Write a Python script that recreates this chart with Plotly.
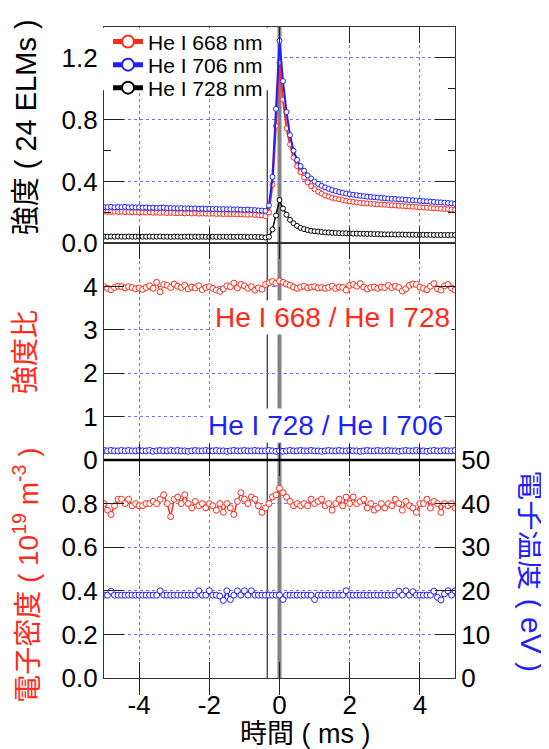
import numpy as np
import plotly.graph_objs as go

# time axis (ms), 0.1 ms sampling
time_ms = np.round(np.arange(-50, 51) / 10, 1)

# --- top panel: line intensities (24 ELMs) ---
he668 = [0.205, 0.204, 0.203, 0.205, 0.203, 0.204, 0.202, 0.203, 0.201, 0.202,
         0.200, 0.201, 0.199, 0.200, 0.198, 0.199, 0.197, 0.198, 0.196, 0.197,
         0.196, 0.195, 0.196, 0.194, 0.195, 0.193, 0.194, 0.192, 0.193, 0.192,
         0.191, 0.192, 0.190, 0.191, 0.189, 0.190, 0.188, 0.189, 0.187, 0.188,
         0.186, 0.185, 0.186, 0.184, 0.182, 0.180, 0.176, 0.200, 0.380, 0.760,
         1.170,
         0.930, 0.745, 0.640, 0.555, 0.500, 0.460, 0.425, 0.395, 0.370, 0.350,
         0.335, 0.322, 0.310, 0.302, 0.295, 0.290, 0.285, 0.280, 0.275, 0.271,
         0.268, 0.265, 0.262, 0.260, 0.258, 0.256, 0.254, 0.252, 0.251, 0.250,
         0.248, 0.246, 0.245, 0.243, 0.242, 0.240, 0.238, 0.237, 0.235, 0.233,
         0.232, 0.230, 0.229, 0.227, 0.226, 0.224, 0.222, 0.221, 0.219, 0.216]
he706 = [0.235, 0.234, 0.236, 0.233, 0.235, 0.234, 0.236, 0.233, 0.234, 0.232,
         0.233, 0.231, 0.232, 0.230, 0.231, 0.229, 0.230, 0.231, 0.228, 0.229,
         0.228, 0.227, 0.228, 0.226, 0.227, 0.225, 0.226, 0.224, 0.225, 0.223,
         0.224, 0.222, 0.223, 0.221, 0.222, 0.220, 0.221, 0.219, 0.220, 0.218,
         0.217, 0.218, 0.216, 0.215, 0.213, 0.212, 0.210, 0.245, 0.430, 0.870,
         1.310,
         1.050, 0.850, 0.700, 0.600, 0.540, 0.500, 0.470, 0.440, 0.420, 0.400,
         0.385, 0.372, 0.362, 0.353, 0.345, 0.338, 0.332, 0.327, 0.322, 0.318,
         0.314, 0.311, 0.308, 0.305, 0.302, 0.300, 0.298, 0.296, 0.294, 0.292,
         0.290, 0.288, 0.287, 0.285, 0.284, 0.282, 0.280, 0.279, 0.277, 0.275,
         0.273, 0.272, 0.270, 0.268, 0.266, 0.265, 0.263, 0.261, 0.259, 0.256]
he728 = [0.044, 0.043, 0.044, 0.043, 0.044, 0.043, 0.043, 0.044, 0.043, 0.043,
         0.044, 0.043, 0.043, 0.044, 0.043, 0.043, 0.044, 0.043, 0.043, 0.042,
         0.043, 0.043, 0.042, 0.043, 0.043, 0.042, 0.043, 0.042, 0.043, 0.042,
         0.042, 0.043, 0.042, 0.042, 0.043, 0.042, 0.042, 0.042, 0.043, 0.042,
         0.042, 0.041, 0.042, 0.042, 0.041, 0.040, 0.038, 0.042, 0.090, 0.180,
         0.280,
         0.225, 0.185, 0.152, 0.130, 0.113, 0.100, 0.092, 0.086, 0.081, 0.078,
         0.076, 0.073, 0.071, 0.070, 0.068, 0.067, 0.066, 0.065, 0.065, 0.064,
         0.063, 0.063, 0.062, 0.062, 0.061, 0.061, 0.060, 0.060, 0.059, 0.058,
         0.058, 0.058, 0.057, 0.057, 0.057, 0.056, 0.056, 0.056, 0.055, 0.055,
         0.055, 0.055, 0.055, 0.054, 0.054, 0.054, 0.054, 0.054, 0.054, 0.054]

# --- middle panel: line ratios ---
ratio_668_728 = [4.00, 3.96, 3.93, 3.98, 4.01, 4.00, 3.97, 4.00, 3.98, 3.95,
                 3.97, 3.94, 3.98, 4.02, 3.96, 4.10, 3.88, 4.05, 4.03, 3.98,
                 4.06, 4.01, 3.98, 4.03, 3.95, 3.99, 3.97, 4.02, 3.93, 3.98,
                 4.00, 3.96, 3.92, 3.89, 3.95, 4.02, 4.00, 4.08, 3.97, 4.05,
                 4.02, 3.96, 4.00, 3.92, 3.97, 3.94, 4.05, 4.09, 4.12, 4.08,
                 4.13,
                 4.10, 4.06, 4.03, 3.99, 3.96, 3.99, 4.01, 3.97, 3.99, 4.00,
                 3.97, 3.98, 3.96, 3.98, 4.01, 3.96, 3.99, 3.98, 3.92, 4.03,
                 4.05, 4.01, 4.07, 3.99, 3.95, 3.98, 3.99, 3.96, 3.99, 3.98,
                 4.03, 3.98, 4.01, 3.98, 3.90, 3.95, 4.03, 4.06, 4.05, 3.99,
                 3.96, 3.93, 4.01, 4.07, 3.95, 3.92, 4.02, 4.05, 3.97, 3.92]
ratio_728_706 = [0.22, 0.21, 0.22, 0.21, 0.21, 0.22, 0.21, 0.22, 0.21, 0.21,
                 0.22, 0.21, 0.21, 0.22, 0.20, 0.21, 0.22, 0.21, 0.21, 0.22,
                 0.21, 0.22, 0.21, 0.21, 0.20, 0.21, 0.22, 0.21, 0.21, 0.22,
                 0.21, 0.21, 0.22, 0.21, 0.21, 0.20, 0.21, 0.22, 0.21, 0.21,
                 0.22, 0.21, 0.21, 0.22, 0.21, 0.21, 0.21, 0.22, 0.21, 0.20,
                 0.21,
                 0.20, 0.21, 0.22, 0.21, 0.21, 0.22, 0.21, 0.21, 0.22, 0.21,
                 0.21, 0.20, 0.21, 0.22, 0.21, 0.21, 0.22, 0.21, 0.21, 0.22,
                 0.21, 0.21, 0.20, 0.21, 0.22, 0.21, 0.21, 0.22, 0.21, 0.21,
                 0.22, 0.21, 0.21, 0.20, 0.21, 0.22, 0.21, 0.21, 0.22, 0.21,
                 0.21, 0.20, 0.21, 0.22, 0.21, 0.21, 0.22, 0.21, 0.21, 0.22]

# --- bottom panel: electron density (1e19 m^-3) and temperature (eV) ---
n_e = [0.80, 0.77, 0.75, 0.79, 0.82, 0.82, 0.80, 0.82, 0.79, 0.80,
       0.79, 0.79, 0.80, 0.80, 0.81, 0.80, 0.82, 0.84, 0.80, 0.74,
       0.82, 0.83, 0.80, 0.84, 0.80, 0.78, 0.81, 0.79, 0.80, 0.78,
       0.80, 0.79, 0.77, 0.80, 0.76, 0.80, 0.78, 0.75, 0.81, 0.85,
       0.82, 0.80, 0.83, 0.82, 0.79, 0.76, 0.78, 0.80, 0.83, 0.84,
       0.87,
       0.85, 0.83, 0.81, 0.79, 0.80, 0.79, 0.80, 0.79, 0.82, 0.80,
       0.81, 0.82, 0.79, 0.80, 0.77, 0.80, 0.82, 0.79, 0.83, 0.80,
       0.83, 0.80, 0.81, 0.82, 0.78, 0.80, 0.77, 0.78, 0.80, 0.78,
       0.80, 0.79, 0.82, 0.80, 0.77, 0.81, 0.79, 0.78, 0.76, 0.80,
       0.80, 0.82, 0.78, 0.81, 0.80, 0.76, 0.80, 0.79, 0.80, 0.78]
T_e = [19.0, 19.0, 19.9, 19.0, 19.0, 19.0, 19.0, 19.0, 19.0, 19.0,
       19.0, 19.0, 19.0, 19.0, 19.0, 19.0, 20.0, 19.0, 19.0, 19.0,
       19.0, 19.0, 19.0, 19.0, 19.0, 19.0, 19.0, 20.0, 19.0, 19.0,
       20.0, 19.0, 19.0, 18.8, 17.8, 20.0, 18.0, 19.0, 20.0, 19.0,
       20.0, 19.0, 20.0, 19.0, 19.0, 19.0, 19.0, 19.0, 19.0, 19.0,
       19.0,
       18.0, 19.0, 19.0, 19.0, 19.0, 19.0, 19.0, 19.0, 19.0, 18.0,
       19.0, 19.0, 19.0, 19.0, 19.0, 19.0, 19.0, 19.0, 20.0, 19.0,
       19.0, 19.0, 19.0, 19.0, 19.0, 19.0, 19.0, 19.0, 19.0, 19.0,
       19.0, 19.0, 19.0, 19.9, 19.0, 20.0, 19.0, 19.8, 19.0, 19.0,
       19.0, 19.0, 19.0, 19.9, 18.5, 17.9, 19.3, 20.0, 19.0, 20.0]

RED = '#ff2a1a'
BLUE = '#1f1fff'
GRID = '#6f6fff'
TXT = 'Liberation Sans, Arial, sans-serif'
JP = 'Liberation Sans, Noto Sans CJK JP, sans-serif'


def mk(color, size):
    return dict(symbol='circle', size=size, color='white',
                line=dict(color=color, width=1))


data = [
    go.Scatter(x=time_ms, y=he668, xaxis='x3', yaxis='y3', mode='lines+markers',
               name='He I 668 nm', legend='legend', line=dict(color=RED, width=2),
               marker=mk(RED, 5)),
    go.Scatter(x=time_ms, y=he706, xaxis='x3', yaxis='y3', mode='lines+markers',
               name='He I 706 nm', legend='legend2', line=dict(color=BLUE, width=2),
               marker=mk(BLUE, 5)),
    go.Scatter(x=time_ms, y=he728, xaxis='x3', yaxis='y3', mode='lines+markers',
               name='He I 728 nm', legend='legend3', line=dict(color='black', width=1.5),
               marker=mk('black', 5)),
    go.Scatter(x=time_ms, y=ratio_668_728, xaxis='x2', yaxis='y2', mode='lines+markers',
               showlegend=False, line=dict(color=RED, width=1), marker=mk(RED, 6)),
    go.Scatter(x=time_ms, y=ratio_728_706, xaxis='x2', yaxis='y2', mode='lines+markers',
               showlegend=False, line=dict(color=BLUE, width=1), marker=mk(BLUE, 6)),
    go.Scatter(x=time_ms, y=n_e, xaxis='x', yaxis='y', mode='lines+markers',
               showlegend=False, line=dict(color=RED, width=1.5), marker=mk(RED, 6)),
    go.Scatter(x=time_ms, y=T_e, xaxis='x', yaxis='y4', mode='lines+markers',
               showlegend=False, line=dict(color=BLUE, width=1.5), marker=mk(BLUE, 6)),
]

d_bot = [0, 0.3349]
d_mid = [0.3349, 0.6677]
d_top = [0.6677, 1.0]

xcommon = dict(range=[-5, 5], tickvals=[-4, -2, 0, 2, 4],
               ticktext=['-4', '-2', '0', '2', '4'], ticks='inside', ticklen=16,
               tickcolor='#222', showline=True, linecolor='#333', linewidth=1.2,
               mirror='allticks', showgrid=True, gridcolor=GRID, griddash='dot',
               gridwidth=1, zeroline=False, automargin=False,
               tickfont=dict(family=TXT, size=26, color='black'))
ycommon = dict(ticks='inside', ticklen=20, tickcolor='#222', showline=True,
               linecolor='#333', linewidth=1.2, showgrid=True, gridcolor=GRID,
               griddash='dot', gridwidth=1, zeroline=False, automargin=False,
               tickfont=dict(family=TXT, size=26, color='black'))

leg = dict(xanchor='left', yanchor='middle', x=0.0114, bgcolor='rgba(255,255,255,0)',
           font=dict(family=TXT, size=21, color='black'), itemsizing='constant')

layout = go.Layout(
    width=541, height=741,
    margin=dict(l=96, r=94, t=19, b=71, autoexpand=False),
    paper_bgcolor='white', plot_bgcolor='white',
    xaxis=dict(domain=[0, 1], anchor='y', ticklabelstandoff=4, **xcommon),
    xaxis2=dict(domain=[0, 1], anchor='y2', showticklabels=False, **xcommon),
    xaxis3=dict(domain=[0, 1], anchor='y3', showticklabels=False, **xcommon),
    yaxis=dict(domain=d_bot, anchor='x', range=[0, 1.0], tickvals=[0, 0.2, 0.4, 0.6, 0.8],
               ticktext=['0.0', '0.2', '0.4', '0.6', '0.8'], mirror=False, **ycommon),
    yaxis4=dict(overlaying='y', side='right', anchor='x', range=[0, 50],
                tickvals=[0, 10, 20, 30, 40, 50], ticks='inside', ticklen=20,
                tickcolor='#222', showline=True, linecolor='#333', linewidth=1.2,
                showgrid=False, zeroline=False, automargin=False,
                tickfont=dict(family=TXT, size=26, color='black')),
    yaxis2=dict(domain=d_mid, anchor='x2', range=[0, 5], tickvals=[0, 1, 2, 3, 4],
                mirror='allticks', **ycommon),
    yaxis3=dict(domain=d_top, anchor='x3', range=[0, 1.4], tickvals=[0, 0.4, 0.8, 1.2],
                ticktext=['0.0', '0.4', '0.8', '1.2'], mirror='allticks',
                minor=dict(tickvals=[0.2, 0.6, 1.0], ticks='inside', ticklen=7,
                           tickcolor='#222', showgrid=False), **ycommon),
    legend=dict(y=0.977, **leg),
    legend2=dict(y=0.9416, **leg),
    legend3=dict(y=0.9063, **leg),
    shapes=[
        dict(type='line', xref='x', yref='paper', x0=0, x1=0, y0=0, y1=1,
             line=dict(color='rgba(110,110,110,0.85)', width=4), layer='between'),
        dict(type='line', xref='x', yref='paper', x0=-0.35, x1=-0.35, y0=0, y1=1,
             line=dict(color='black', width=1), layer='between'),
        dict(type='line', xref='paper', yref='paper', x0=0, x1=1, y0=d_bot[1], y1=d_bot[1],
             line=dict(color='black', width=2.5)),
        # white box behind the legend entries
        dict(type='rect', xref='paper', yref='paper', x0=-0.011, x1=0.473,
             y0=0.903, y1=0.999, fillcolor='white', line=dict(width=0), layer='above'),
    ],
    annotations=[
        dict(text='He I 668 / He I 728', xref='paper', yref='paper', x=0.991, y=0.553,
             xanchor='right', yanchor='middle', showarrow=False, bgcolor='white',
             font=dict(family=TXT, size=28, color=RED)),
        dict(text='He I 728 / He I 706', xref='paper', yref='paper', x=0.9715, y=0.3886,
             xanchor='right', yanchor='middle', showarrow=False, bgcolor='white',
             font=dict(family=TXT, size=28, color=BLUE)),
        dict(text='強度 ( 24 ELMs )', xref='paper', yref='paper', x=-0.222, y=0.846,
             xanchor='center', yanchor='middle', textangle=-90, showarrow=False,
             font=dict(family=JP, size=29, color='black')),
        dict(text='強度比', xref='paper', yref='paper', x=-0.222, y=0.501,
             xanchor='center', yanchor='middle', textangle=-90, showarrow=False,
             font=dict(family=JP, size=28, color=RED)),
        dict(text='電子密度 ( 10<sup>19</sup> m<sup>-3</sup> )', xref='paper', yref='paper',
             x=-0.222, y=0.157, xanchor='center', yanchor='middle', textangle=-90,
             showarrow=False, font=dict(family=JP, size=28, color=RED)),
        dict(text='電子温度 ( eV )', xref='paper', yref='paper', x=1.219, y=0.164,
             xanchor='center', yanchor='middle', textangle=90, showarrow=False,
             font=dict(family=JP, size=30, color=BLUE)),
        dict(text='時間 ( ms )', xref='paper', yref='paper', x=0.573, y=-0.086,
             xanchor='center', yanchor='middle', showarrow=False,
             font=dict(family=JP, size=27, color='black')),
    ],
)

fig = go.Figure(data=data, layout=layout)
fig.write_html("out.html")
